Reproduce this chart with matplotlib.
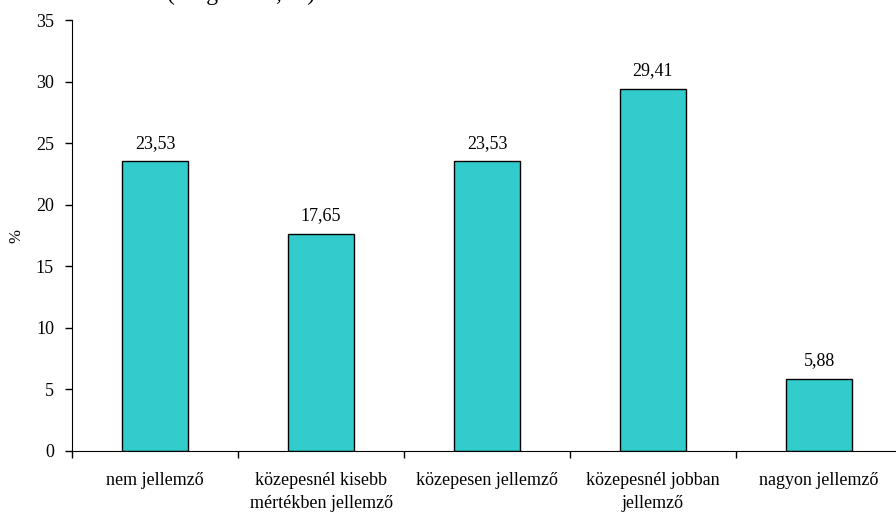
import numpy as np
import matplotlib.pyplot as plt

# adatok
kategoriak = ['nem jellemző', 'közepesnél kisebb\nmértékben jellemző', 'közepesen jellemző',
              'közepesnél jobban\njellemző', 'nagyon jellemző']
ertekek = [23.53, 17.65, 23.53, 29.41, 5.88]
cimkek = ['23,53', '17,65', '23,53', '29,41', '5,88']

plt.rcParams['font.family'] = ['Liberation Serif', 'DejaVu Serif']
plt.rcParams['font.size'] = 13

fig = plt.figure(figsize=(8.96, 5.16), dpi=100)
ax = fig.add_axes([0.0804, 0.126, 0.9263, 0.835])

x = np.arange(len(ertekek)) + 0.5
bars = ax.bar(x, ertekek, width=0.4, color='#33CCCC', edgecolor='black', linewidth=1)

for xi, v, c in zip(x, ertekek, cimkek):
    ax.annotate(c, (xi, v), xytext=(0, 7), textcoords='offset points',
                ha='center', va='bottom', fontsize=13)

ax.set_xlim(0, 5)
ax.set_ylim(0, 35)
ax.set_yticks(np.arange(0, 36, 5))
ax.set_xticks(np.arange(0, 6), minor=False)
ax.set_xticklabels([])
ax.set_xticks(x, minor=True)
ax.set_xticklabels(kategoriak, minor=True, linespacing=1.45)
ax.tick_params(axis='x', which='minor', length=0, pad=15)
ax.tick_params(axis='x', which='major', length=5, width=1)
ax.tick_params(axis='y', length=5, width=1, pad=8)

ax.spines['top'].set_visible(False)
ax.spines['right'].set_visible(False)
ax.set_ylabel('%', fontsize=12)
ax.yaxis.set_label_coords(-0.058, 0.5)

# felső, levágott felirat
fig.text(0.186, 1.0, '(Megoszlás, %)', fontsize=17, ha='left', va='baseline')

plt.savefig('out.png', dpi=100)
